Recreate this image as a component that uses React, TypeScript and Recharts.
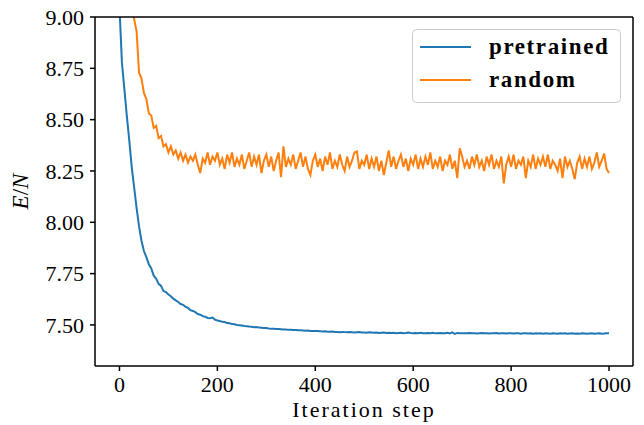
import React from 'react';
import { LineChart, Line, XAxis, YAxis, Legend } from 'recharts';

const STEP = 5;

const pretrained = [
  9.05, 8.78, 8.65, 8.52, 8.40, 8.27, 8.17, 8.07, 7.98, 7.91,
  7.86, 7.83, 7.795, 7.775, 7.74, 7.725, 7.70, 7.69, 7.665, 7.66,
  7.648, 7.64, 7.628, 7.62, 7.612, 7.602, 7.598, 7.588, 7.583, 7.572,
  7.568, 7.562, 7.553, 7.55, 7.543, 7.54, 7.534, 7.533, 7.536, 7.526,
  7.522, 7.519, 7.515, 7.514, 7.509, 7.508, 7.504, 7.503, 7.500, 7.499,
  7.497, 7.495, 7.494, 7.492, 7.491, 7.489, 7.490, 7.487, 7.486, 7.485,
  7.485, 7.483, 7.482, 7.481, 7.480, 7.480, 7.479, 7.478, 7.478, 7.476,
  7.476, 7.475, 7.475, 7.474, 7.474, 7.473, 7.472, 7.473, 7.471, 7.471,
  7.470,
  7.470, 7.469, 7.468, 7.469, 7.467, 7.467, 7.468, 7.466, 7.466, 7.465,
  7.466, 7.465, 7.464, 7.465, 7.464, 7.463, 7.464, 7.465, 7.463, 7.463,
  7.462, 7.464, 7.463, 7.462, 7.463, 7.461, 7.462, 7.463, 7.461, 7.462,
  7.461, 7.462, 7.460, 7.461, 7.462, 7.460, 7.461, 7.463, 7.461, 7.460,
  7.461, 7.460, 7.462, 7.460, 7.459, 7.461, 7.460, 7.462, 7.459, 7.460,
  7.461, 7.459, 7.460, 7.462, 7.459, 7.464, 7.456, 7.461, 7.459, 7.460,
  7.460, 7.459, 7.461, 7.459, 7.460, 7.458, 7.460, 7.461, 7.459, 7.460,
  7.458, 7.460, 7.459, 7.461, 7.458, 7.459, 7.460, 7.458, 7.460, 7.459,
  7.458, 7.460, 7.459, 7.457, 7.459, 7.460, 7.458, 7.459, 7.457, 7.459,
  7.458, 7.459, 7.457, 7.459, 7.458, 7.457, 7.459, 7.458, 7.457, 7.459,
  7.458, 7.459, 7.457, 7.458, 7.459, 7.457, 7.458, 7.457, 7.459, 7.458,
  7.457, 7.458, 7.459, 7.457, 7.458, 7.459, 7.457, 7.458, 7.460, 7.459,
];

const random = [
  9.80, 9.62, 9.46, 9.32, 9.20, 9.09, 8.99, 8.93, 8.73, 8.70,
  8.63, 8.60, 8.53, 8.52, 8.46, 8.47, 8.41, 8.42, 8.37, 8.38,
  8.34, 8.37, 8.33, 8.35, 8.31, 8.34, 8.30, 8.33, 8.29, 8.32,
  8.30, 8.33, 8.28, 8.24, 8.31, 8.29, 8.34, 8.28, 8.32, 8.30,
  8.34, 8.28, 8.31, 8.26, 8.33, 8.29, 8.34, 8.27, 8.31, 8.28,
  8.33, 8.26, 8.30, 8.34, 8.27, 8.32, 8.28, 8.33, 8.24, 8.30,
  8.33, 8.27, 8.32, 8.25, 8.30, 8.34, 8.22, 8.37, 8.27, 8.31,
  8.28, 8.33, 8.26, 8.30, 8.34, 8.27, 8.32, 8.26, 8.23, 8.30,
  8.33, 8.27, 8.31, 8.25, 8.32, 8.28, 8.34, 8.26, 8.30, 8.27,
  8.33, 8.28, 8.25, 8.32, 8.27, 8.30, 8.34, 8.345, 8.26, 8.30,
  8.28, 8.33, 8.26, 8.31, 8.27, 8.32, 8.25, 8.30, 8.23, 8.29,
  8.35, 8.27, 8.32, 8.26, 8.30, 8.33, 8.27, 8.31, 8.25, 8.31,
  8.28, 8.33, 8.26, 8.31, 8.27, 8.32, 8.28, 8.34, 8.26, 8.30,
  8.27, 8.32, 8.25, 8.30, 8.28, 8.33, 8.26, 8.30, 8.215, 8.36,
  8.32, 8.27, 8.30, 8.26, 8.32, 8.28, 8.33, 8.27, 8.30, 8.25,
  8.32, 8.28, 8.33, 8.26, 8.30, 8.27, 8.32, 8.19, 8.28, 8.32,
  8.27, 8.33, 8.26, 8.30, 8.28, 8.32, 8.215, 8.30, 8.27, 8.33,
  8.26, 8.31, 8.28, 8.32, 8.27, 8.33, 8.26, 8.30, 8.28, 8.25,
  8.31, 8.215, 8.32, 8.27, 8.30, 8.26, 8.21, 8.29, 8.32, 8.26,
  8.31, 8.27, 8.32, 8.26, 8.29, 8.34, 8.27, 8.30, 8.335, 8.26,
  8.24,
];

const xTicks = [0, 200, 400, 600, 800, 1000];
const yTicks = [7.5, 7.75, 8.0, 8.25, 8.5, 8.75, 9.0];
const series = [
  { key: 'pretrained', color: '#1f77b4' },
  { key: 'random', color: '#ff7f0e' },
];

const data = pretrained.map((v, i) => ({ step: i * STEP, pretrained: v, random: random[i] }));

const xDomain = [-49.95, 1048.95];
const yDomain = [7.3, 9.0];
const FONT = '"Liberation Serif", "Times New Roman", serif';
const axisLine = { stroke: '#000', strokeWidth: 1.5 };

function YTitle({ viewBox }: any) {
  const cx = 28;
  const cy = viewBox.y + viewBox.height / 2;
  return (
    <text x={cx} y={cy} transform={`rotate(-90 ${cx} ${cy})`} textAnchor="middle"
      fontFamily={FONT} fontSize={23} fill="#000">
      <tspan fontStyle="italic">E</tspan>
      <tspan>/</tspan>
      <tspan fontStyle="italic">N</tspan>
    </text>
  );
}

function LegendBox() {
  return (
    <svg width={209} height={74} style={{ display: 'block' }}>
      <rect x={0.5} y={0.5} width={208} height={73} rx={4} fill="rgba(255,255,255,0.8)" stroke="#cccccc" />
      {series.map((s, i) => (
        <g key={s.key}>
          <line x1={8} x2={59} y1={18 + i * 33} y2={18 + i * 33} stroke={s.color} strokeWidth={2} />
          <text x={77} y={25 + i * 33} fontFamily={FONT} fontWeight="bold" fontSize={23}
            letterSpacing={1.6} fill="#000">{s.key}</text>
        </g>
      ))}
    </svg>
  );
}

export default function App() {
  return (
    <div style={{ position: 'absolute', left: 0, top: 0, background: '#fff' }}>
      <LineChart width={644} height={425} data={data} margin={{ top: 0, right: 0, bottom: 0, left: 0 }}>
        <XAxis
          dataKey="step"
          type="number"
          domain={xDomain}
          allowDataOverflow
          ticks={xTicks}
          height={59}
          tickSize={5}
          tickMargin={5}
          axisLine={axisLine}
          tickLine={axisLine}
          tick={{ fill: '#000', fontSize: 22, fontFamily: FONT }}
          label={{ value: 'Iteration step', position: 'insideBottom', offset: 8, fill: '#000', fontSize: 22, fontFamily: FONT, letterSpacing: 2 }}
        />
        <XAxis xAxisId="top" orientation="top" type="number" domain={xDomain} allowDataOverflow
          height={17} tick={false} tickLine={false} axisLine={axisLine} />
        <YAxis
          type="number"
          domain={yDomain}
          allowDataOverflow
          ticks={yTicks}
          width={95}
          tickSize={5}
          tickMargin={6}
          tickFormatter={(v: number) => v.toFixed(2)}
          axisLine={axisLine}
          tickLine={axisLine}
          tick={{ fill: '#000', fontSize: 22, fontFamily: FONT }}
          label={<YTitle />}
        />
        <YAxis yAxisId="right" orientation="right" type="number" domain={yDomain} allowDataOverflow
          width={11} tick={false} tickLine={false} axisLine={axisLine} />
        <Legend
          layout="vertical"
          align="center"
          verticalAlign="middle"
          wrapperStyle={{ left: 412, top: 29, width: 209, height: 74 }}
          content={() => <LegendBox />}
        />
        {series.map((s) => (
          <Line
            key={s.key}
            dataKey={s.key}
            stroke={s.color}
            strokeWidth={2}
            dot={false}
            activeDot={false}
            isAnimationActive={false}
          />
        ))}
      </LineChart>
    </div>
  );
}
